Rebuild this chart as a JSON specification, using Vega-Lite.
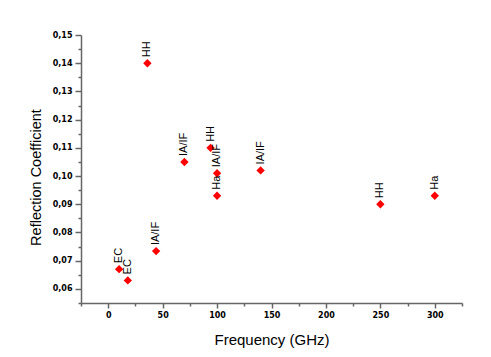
{
  "$schema": "https://vega.github.io/schema/vega-lite/v6.json",
  "width": 381,
  "height": 268,
  "autosize": "none",
  "padding": {"left": 81, "top": 35, "right": 29, "bottom": 54},
  "background": "white",
  "config": {
    "view": {"stroke": null},
    "axis": {
      "grid": false,
      "domainColor": "#666666",
      "tickColor": "#666666",
      "domainWidth": 1.5,
      "tickWidth": 1.5,
      "labelFont": "DejaVu Sans",
      "labelFontWeight": "bold",
      "labelFontSize": 8,
      "labelColor": "#000000",
      "titleFont": "Liberation Sans",
      "titleFontWeight": "normal",
      "titleFontSize": 14.5,
      "titleColor": "#000000"
    }
  },
  "data": {
    "values": [
      {"freq": 36, "rc": 0.140, "label": "HH"},
      {"freq": 70, "rc": 0.105, "label": "IA/IF"},
      {"freq": 94, "rc": 0.110, "label": "HH"},
      {"freq": 100, "rc": 0.101, "label": "IA/IF"},
      {"freq": 100, "rc": 0.093, "label": "Ha"},
      {"freq": 44, "rc": 0.0734, "label": "IA/IF"},
      {"freq": 10, "rc": 0.067, "label": "EC"},
      {"freq": 18, "rc": 0.063, "label": "EC"},
      {"freq": 140, "rc": 0.102, "label": "IA/IF"},
      {"freq": 250, "rc": 0.090, "label": "HH"},
      {"freq": 300, "rc": 0.093, "label": "Ha"}
    ]
  },
  "encoding": {
    "x": {
      "field": "freq",
      "type": "quantitative",
      "scale": {"domain": [-25, 325], "nice": false, "zero": false},
      "axis": {
        "title": "Frequency (GHz)",
        "titleFontSize": 15,
        "values": [-25, 0, 25, 50, 75, 100, 125, 150, 175, 200, 225, 250, 275, 300, 325],
        "labelExpr": "datum.value % 50 == 0 ? format(datum.value, 'd') : ''",
        "tickSize": {"condition": {"test": "datum.value % 50 == 0", "value": 5}, "value": 3},
        "labelPadding": 3,
        "titlePadding": 13
      }
    },
    "y": {
      "field": "rc",
      "type": "quantitative",
      "scale": {"domain": [0.055, 0.15], "nice": false, "zero": false},
      "axis": {
        "title": "Reflection Coefficient",
        "values": [0.055, 0.06, 0.065, 0.07, 0.075, 0.08, 0.085, 0.09, 0.095, 0.1, 0.105, 0.11, 0.115, 0.12, 0.125, 0.13, 0.135, 0.14, 0.145, 0.15],
        "labelExpr": "abs(round(datum.value * 100) - datum.value * 100) < 0.01 ? replace(format(datum.value, '.2f'), '.', ',') : ''",
        "tickSize": {"condition": {"test": "abs(round(datum.value * 100) - datum.value * 100) < 0.01", "value": 6}, "value": 3},
        "labelPadding": 3,
        "titleY": 142,
        "titleX": -38
      }
    }
  },
  "layer": [
    {
      "mark": {"type": "point", "shape": "diamond", "filled": true, "size": 70, "color": "#ff0000", "opacity": 1}
    },
    {
      "mark": {"type": "text", "angle": 270, "align": "left", "baseline": "middle", "dx": 6, "font": "Liberation Sans", "fontSize": 11, "color": "#000000"},
      "encoding": {"text": {"field": "label"}}
    }
  ]
}
